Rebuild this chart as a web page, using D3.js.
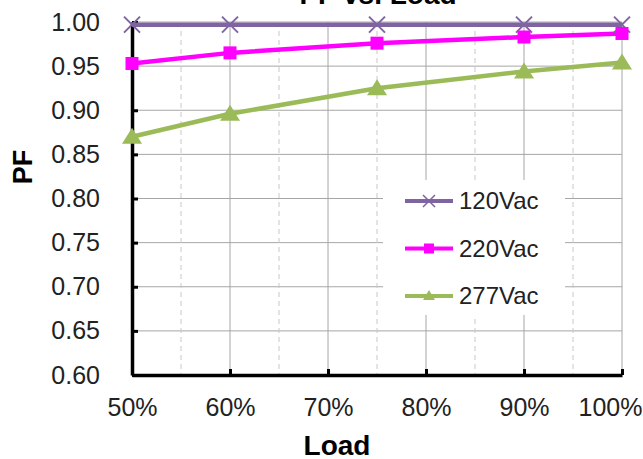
<!DOCTYPE html>
<html>
<head>
<meta charset="utf-8">
<script src="https://cdn.jsdelivr.net/npm/d3@7"></script>
<style>
  body { margin: 0; background: #fff; }
  text { font-family: "Liberation Sans", Arial, sans-serif; }
</style>
</head>
<body>
<div id="chart"></div>
<script>
// data
const loads = [50, 60, 75, 90, 100];
const pf120 = [0.997, 0.997, 0.997, 0.997, 0.997];
const pf220 = [0.953, 0.965, 0.976, 0.983, 0.987];
const pf277 = [0.870, 0.896, 0.925, 0.944, 0.954];
const yTicks = [0.60, 0.65, 0.70, 0.75, 0.80, 0.85, 0.90, 0.95, 1.00];
const xTicks = [50, 60, 70, 80, 90, 100];
const xMinor = [55, 65, 75, 85, 95];
const seriesNames = ["120Vac", "220Vac", "277Vac"];

const margin = {top: 22, right: 21, bottom: 84, left: 132},
    width = 643 - margin.left - margin.right,
    height = 459 - margin.top - margin.bottom;

const svg = d3.select("#chart")
  .append("svg")
    .attr("width", 643)
    .attr("height", 459)
  .append("g")
    .attr("transform", `translate(${margin.left},${margin.top})`);

const x = d3.scaleLinear().domain([50, 100]).range([0, width]);
const y = d3.scaleLinear().domain([0.6, 1.0]).range([height, 0]);

const color = d3.scaleOrdinal()
  .domain(seriesNames)
  .range(["#8064A2", "#FF00FF", "#9BBB59"]);

const series = [
  {name: "120Vac", values: pf120, marker: "x"},
  {name: "220Vac", values: pf220, marker: "square"},
  {name: "277Vac", values: pf277, marker: "triangle"}
];

// gridlines
svg.append("g")
  .selectAll("line")
  .data(yTicks)
  .join("line")
    .attr("x1", 0).attr("x2", width)
    .attr("y1", d => y(d)).attr("y2", d => y(d))
    .attr("stroke", "#a6a6a6").attr("stroke-width", 1);

svg.append("g")
  .selectAll("line")
  .data(xTicks)
  .join("line")
    .attr("x1", d => x(d)).attr("x2", d => x(d))
    .attr("y1", 0).attr("y2", height)
    .attr("stroke", "#a6a6a6").attr("stroke-width", 1);

svg.append("g")
  .selectAll("line")
  .data(xMinor)
  .join("line")
    .attr("x1", d => x(d)).attr("x2", d => x(d))
    .attr("y1", 0).attr("y2", height)
    .attr("stroke", "#c8c8c8").attr("stroke-width", 1)
    .attr("stroke-dasharray", "5,4");

// legend background (hides the grid behind it)
svg.append("rect")
  .attr("x", 251).attr("y", 158)
  .attr("width", 182).attr("height", 135)
  .attr("fill", "#fff");

// axes
const yAxis = svg.append("g")
  .call(d3.axisLeft(y).tickValues(yTicks).tickFormat(d3.format(".2f")).tickSizeInner(-6).tickSizeOuter(0).tickPadding(32));
yAxis.select(".domain").attr("stroke", "#000").attr("stroke-width", 3.5);
yAxis.selectAll(".tick line").attr("stroke", "#000").attr("stroke-width", 3);
yAxis.selectAll(".tick text").attr("font-size", 25).attr("fill", "#222")
  .attr("font-family", "Liberation Sans, Arial, sans-serif");

const xAxis = svg.append("g")
  .attr("transform", `translate(0,${height})`)
  .call(d3.axisBottom(x).tickValues(xTicks).tickFormat(d => d + "%").tickSizeInner(-6).tickSizeOuter(0).tickPadding(23));
xAxis.select(".domain").attr("stroke", "#000").attr("stroke-width", 3.5);
xAxis.selectAll(".tick line").attr("stroke", "#000").attr("stroke-width", 3);
xAxis.selectAll(".tick text").attr("font-size", 25).attr("fill", "#222")
  .attr("font-family", "Liberation Sans, Arial, sans-serif");
// last label is pushed inside the page like the original
xAxis.selectAll(".tick text").filter(d => d === 100)
  .attr("text-anchor", "end").attr("x", 20);

// lines
const line = d3.line()
  .x((d, i) => x(loads[i]))
  .y(d => y(d));

svg.selectAll(".series")
  .data(series)
  .join("path")
    .attr("d", d => line(d.values))
    .attr("stroke", d => color(d.name))
    .attr("stroke-width", 4.5)
    .attr("fill", "none");

function drawMarker(g, type, c) {
  if (type === "x") {
    g.append("path").attr("d", "M-8,-8L8,8M-8,8L8,-8")
      .attr("stroke", c).attr("stroke-width", 2).attr("fill", "none");
  } else if (type === "square") {
    g.append("rect").attr("x", -6.5).attr("y", -6.5).attr("width", 13).attr("height", 13)
      .attr("fill", c);
  } else {
    g.append("path").attr("d", "M0,-9L10,7L-10,7Z").attr("fill", c);
  }
}

// markers
series.forEach(s => {
  s.values.forEach((v, i) => {
    const g = svg.append("g").attr("transform", `translate(${x(loads[i])},${y(v)})`);
    drawMarker(g, s.marker, color(s.name));
  });
});

// legend
const legend = svg.append("g").attr("transform", "translate(273,179)");
series.forEach((s, i) => {
  const g = legend.append("g").attr("transform", `translate(0,${i * 47.5})`);
  g.append("line").attr("x1", 0).attr("x2", 48).attr("y1", 0).attr("y2", 0)
    .attr("stroke", color(s.name)).attr("stroke-width", 4);
  const m = g.append("g").attr("transform", "translate(24,0)");
  if (s.marker === "x") {
    m.append("path").attr("d", "M-6,-6L6,6M-6,6L6,-6").attr("stroke", color(s.name)).attr("stroke-width", 1.5);
  } else if (s.marker === "square") {
    m.append("rect").attr("x", -5).attr("y", -5).attr("width", 10).attr("height", 10).attr("fill", color(s.name));
  } else {
    m.append("path").attr("d", "M0,-6L6,4L-6,4Z").attr("fill", color(s.name));
  }
  g.append("text").attr("x", 54).attr("y", 8)
    .attr("font-size", 24).attr("fill", "#222").text(s.name);
});

// titles
svg.append("text")
  .attr("x", 378 - margin.left).attr("y", 4 - margin.top)
  .attr("text-anchor", "middle")
  .attr("font-size", 28).attr("font-weight", "bold")
  .text("PF vs. Load");

svg.append("text")
  .attr("x", 337 - margin.left).attr("y", 455 - margin.top)
  .attr("text-anchor", "middle")
  .attr("font-size", 28).attr("font-weight", "bold")
  .text("Load");

svg.append("text")
  .attr("transform", `translate(${32 - margin.left},${167 - margin.top}) rotate(-90)`)
  .attr("text-anchor", "middle")
  .attr("font-size", 27).attr("font-weight", "bold")
  .text("PF");
</script>
</body>
</html>
